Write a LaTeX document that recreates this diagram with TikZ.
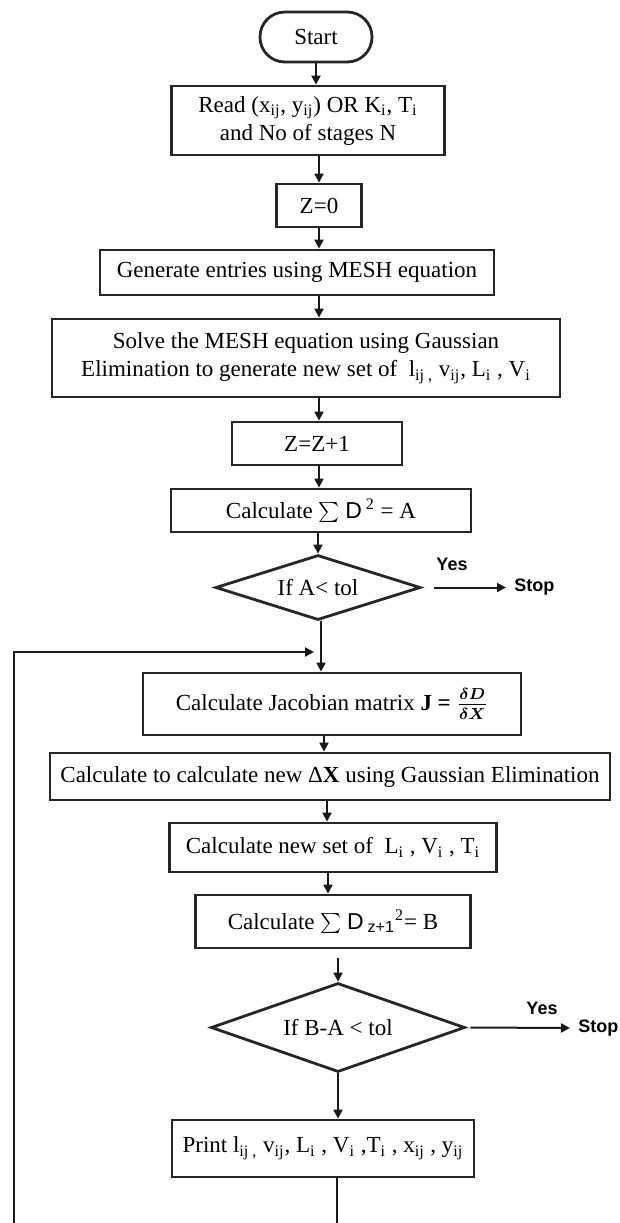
\documentclass[tikz,border=0pt]{standalone}
\usepackage{fontspec}
\setmainfont{Liberation Serif}
\newfontfamily\arialf{Liberation Sans}
\usetikzlibrary{arrows.meta,shapes.geometric}
\newcommand\subx[1]{\textsubscript{#1}}
\begin{document}
\begin{tikzpicture}[x=0.5pt,y=-0.5pt,
  box/.style={draw=black!85, line width=1.4pt, fill=white, align=center, inner sep=0pt,
    font=\fontsize{11.5}{14}\selectfont},
  dia/.style={box, diamond, aspect=3},
  lbl/.style={font=\arialf\bfseries\fontsize{9}{10}\selectfont, inner sep=0pt},
  conn/.style={line width=1pt, draw=black!90},
  arr/.style={conn, -{Triangle[length=4.5pt,width=4.5pt]}}]
\useasboundingbox (0,0) rectangle (620,1223);
\fill[white] (0,0) rectangle (620,1223);

\node[box, minimum width=56pt, minimum height=25pt, rounded corners=12.4pt] (start) at (316,37) {Start};
\node[box, minimum width=136.5pt, minimum height=34.5pt] (read) at (308,120.5)
  {Read (x\subx{ij}, y\subx{ij}) OR K\subx{i}, T\subx{i}\\and No of stages N};
\node[box, minimum width=42.5pt, minimum height=21.5pt] (z0) at (319,205.5) {Z=0};
\node[box, minimum width=197pt, minimum height=22.5pt] (gen) at (297,272.5) {Generate entries using MESH equation};
\node[box, minimum width=254pt, minimum height=39pt] (solve) at (306,358)
  {Solve the MESH equation using Gaussian\\Elimination to generate new set of\ \ l\subx{ij ,} v\subx{ij}, L\subx{i} , V\subx{i}};
\node[box, minimum width=85pt, minimum height=21.5pt] (zz) at (317,443.5) {Z=Z+1};
\node[box, minimum width=150pt, minimum height=21.5pt] (calcA) at (321,510.5)
  {Calculate $\sum$ {\arialf D}\,\textsuperscript{2} = A};
\node[dia, minimum width=102.5pt, minimum height=32.5pt] (d1) at (318,587.5) {If A< tol};
\node[lbl] (yes1) at (452,564) {Yes};
\node[lbl, anchor=west] (stop1) at (514,587.5) {Stop};

\node[box, minimum width=189pt, minimum height=31pt] (jac) at (332,704)
  {Calculate Jacobian matrix \textbf{J =} {\boldmath$\frac{\delta D}{\delta X}$}};
\node[box, minimum width=280pt, minimum height=23.5pt] (dx) at (330,776.5)
  {Calculate to calculate new Δ\textbf{X} using Gaussian Elimination};
\node[box, minimum width=163.5pt, minimum height=24.5pt] (newset) at (333,847.5)
  {Calculate new set of\ \ L\subx{i} , V\subx{i} , T\subx{i}};
\node[box, minimum width=137.5pt, minimum height=26.5pt] (calcB) at (333,921.5)
  {Calculate $\sum$ {\arialf D\,\subx{z+1}}\textsuperscript{2}= B};
\node[dia, minimum width=127pt, minimum height=44.5pt] (d2) at (338,1027.5) {If B-A < tol};
\node[lbl] (yes2) at (542,1008) {Yes};
\node[lbl, anchor=west] (stop2) at (578,1028) {Stop};
\node[box, minimum width=151pt, minimum height=28.5pt] (print) at (323,1148.5)
  {Print l\subx{ij ,} v\subx{ij}, L\subx{i} , V\subx{i} ,T\subx{i} , x\subx{ij} , y\subx{ij}};

\coordinate (lb) at (14,1223);
\coordinate (lt) at (14,652);
\coordinate (lj) at (314,652);
\coordinate (pb) at (337,1223);

\draw[arr] (start.south) -- (start.south |- read.north);
\draw[arr] (read.south -| z0.north) -- (z0.north);
\draw[arr] (z0.south) -- (z0.south |- gen.north);
\draw[arr] (gen.south -| z0.south) -- (solve.north -| z0.south);
\draw[arr] (solve.south -| z0.south) -- (zz.north -| z0.south);
\draw[arr] (zz.south -| z0.south) -- (calcA.north -| z0.south);
\draw[arr] (calcA.south -| d1.north) -- (d1.north);
\draw[arr] ([xshift=6pt]d1.east) -- ([xshift=-4pt]stop1.west);
\draw[arr] ([xshift=1.5pt]d1.south) -- ([xshift=1.5pt]d1.south |- jac.north);
\draw[arr] (lb) -- (lt) -- (lj);
\draw[arr] ([xshift=3pt]jac.south -| d1.south) -- ([xshift=3pt]dx.north -| d1.south);
\draw[arr] ([xshift=4.5pt]dx.south -| d1.south) -- ([xshift=4.5pt]newset.north -| d1.south);
\draw[arr] ([xshift=5pt]newset.south -| d1.south) -- ([xshift=5pt]calcB.north -| d1.south);
\draw[arr] ([yshift=-4.5pt]calcB.south -| d2.north) -- (d2.north);
\draw[arr] ([xshift=2pt]d2.east) -- ([xshift=-4pt]stop2.west);
\draw[arr] (d2.south) -- (d2.south |- print.north);
\draw[conn] (print.south -| pb) -- (pb);
\end{tikzpicture}
\end{document}
